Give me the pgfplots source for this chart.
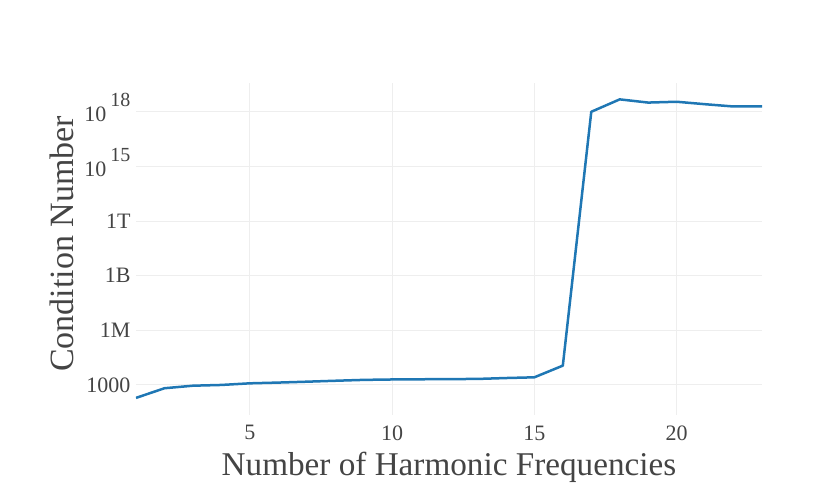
\documentclass[border=0pt]{standalone}
\usepackage{fontspec}
\setmainfont{Liberation Serif}
\usepackage{pgfplots}
\pgfplotsset{compat=1.18}
\definecolor{txt}{HTML}{444444}
\definecolor{gridc}{HTML}{EEEEEE}
\definecolor{lineblue}{HTML}{1F77B4}
\newcommand{\supl}[1]{\vphantom{10}\smash{\raisebox{-3pt}{10\hspace{4pt}\raisebox{15pt}{\fontsize{20}{20}\selectfont #1}}}\hspace{-11pt}}
\begin{document}
\begin{tikzpicture}
\path[use as bounding box] (-136pt,-70pt) rectangle (694pt,415pt);
\begin{axis}[
  at={(0,0)}, anchor=south west,
  scale only axis,
  width=626pt, height=332pt,
  xmin=1, xmax=23,
  ymode=log,
  ymin=22.4, ymax=3.8e19,
  xtick={5,10,15,20},
  ytick={1e3,1e6,1e9,1e12,1e15,1e18},
  yticklabels={1000,1M,1B,1T,\supl{15},\supl{18}},
  xticklabels={5,10,15,20},
  grid=major,
  major grid style={gridc, line width=1pt},
  axis line style={draw=none},
  major tick length=0pt,
  tick style={draw=none},
  /pgf/number format/assume math mode=true,
  ticklabel style={font=\fontsize{22}{22}\selectfont, text=txt},
  xticklabel style={yshift=-7pt},
  yticklabel style={xshift=-2pt},
  xlabel={Number of Harmonic Frequencies},
  ylabel={Condition Number},
  xlabel style={font=\fontsize{33.2}{33.2}\selectfont, text=txt, at={(axis description cs:0.5,-0.157)}, anchor=center},
  ylabel style={font=\fontsize{34}{34}\selectfont, text=txt, at={(axis description cs:-0.118,0.515)}, anchor=center, rotate=0},
]
\addplot[lineblue, line width=2.5pt, line join=round] coordinates {
(1,1.95e2) (2,6.6e2) (3,9.1e2) (4,1.0e3) (5,1.23e3) (6,1.35e3) (7,1.51e3)
(8,1.7e3) (9,1.9e3) (10,2.0e3) (11,2.05e3) (12,2.1e3) (13,2.14e3)
(14,2.4e3) (15,2.63e3) (16,1.15e4) (17,1.0e18) (18,4.8e18) (19,3.2e18)
(20,3.55e18) (21,2.6e18) (22,1.95e18) (23,1.95e18)
};
\end{axis}
\end{tikzpicture}
\end{document}
